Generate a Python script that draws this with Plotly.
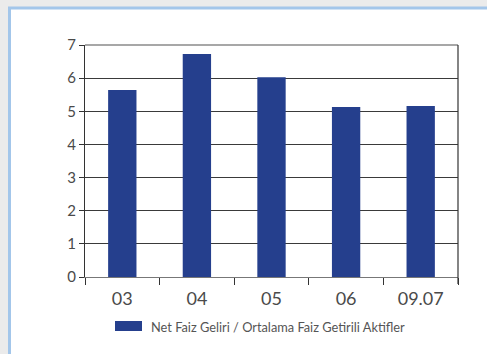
import plotly.graph_objects as go

# Net interest income / average interest-earning assets (%)
periods = ["03", "04", "05", "06", "09.07"]
ratios = [5.64, 6.73, 6.03, 5.13, 5.16]
series_name = "Net Faiz Geliri / Ortalama Faiz Getirili Aktifler"
y_ticks = [0, 1, 2, 3, 4, 5, 6, 7]

bar_color = "#253f8d"
text_color = "#4a4a4a"
font_family = "Lato, 'Noto Sans', sans-serif"

W, H = 487, 354
L, R, T, B = 85, 29, 45, 77
pw, ph = W - L - R, H - T - B


def px(x):
    return (x - L) / pw


def py(y):
    return (H - B - y) / ph


fig = go.Figure(
    go.Bar(
        x=periods,
        y=ratios,
        name=series_name,
        marker=dict(color=bar_color, line=dict(width=0)),
        width=0.38,
        showlegend=False,
    )
)

shapes = [
    # grey page background and white framed panel
    dict(type="rect", xref="paper", yref="paper", layer="below",
         x0=px(-5), x1=px(W + 5), y0=py(H + 5), y1=py(-5),
         fillcolor="#ebebeb", line=dict(width=0)),
    dict(type="rect", xref="paper", yref="paper", layer="below",
         x0=px(9.5), x1=px(W + 10), y0=py(H + 10), y1=py(8),
         fillcolor="white", line=dict(color="#a3c6ea", width=3)),
    # top frame of the plot area (lighter than the grid)
    dict(type="line", xref="paper", yref="paper",
         x0=0, x1=1, y0=1, y1=1,
         line=dict(color="#8a8a8a", width=1.5)),
    # right frame of the plot area
    dict(type="line", xref="paper", yref="paper",
         x0=1, x1=1, y0=py(284), y1=1,
         line=dict(color="#333333", width=1.2)),
    # legend key
    dict(type="rect", xref="paper", yref="paper",
         x0=px(115), x1=px(142), y0=py(331), y1=py(321),
         fillcolor=bar_color, line=dict(width=0)),
]

fig.update_layout(
    width=W,
    height=H,
    margin=dict(l=L, r=R, t=T, b=B),
    paper_bgcolor="white",
    plot_bgcolor="white",
    bargap=0.62,
    font=dict(family=font_family, color=text_color),
    shapes=shapes,
    annotations=[
        dict(text=series_name, xref="paper", yref="paper",
             x=px(149), y=py(327), xanchor="left", yanchor="middle",
             showarrow=False, font=dict(size=12.8, color="#555555")),
    ],
    xaxis=dict(
        type="category",
        showline=True, linecolor="#777777", linewidth=1.2,
        ticks="outside", tickson="boundaries", ticklen=7,
        tickcolor="#333333", tickwidth=1.2,
        tickfont=dict(size=18, color=text_color),
        ticklabelstandoff=5,
        showgrid=False,
    ),
    yaxis=dict(
        range=[0, 7],
        tickvals=y_ticks,
        showline=True, linecolor="#333333", linewidth=1.2,
        ticks="outside", ticklen=5, tickcolor="#333333", tickwidth=1,
        tickfont=dict(size=15, color=text_color),
        showgrid=True, gridcolor="#3a3a3a", gridwidth=1,
        zeroline=False,
    ),
)

fig.write_html("out.html")
